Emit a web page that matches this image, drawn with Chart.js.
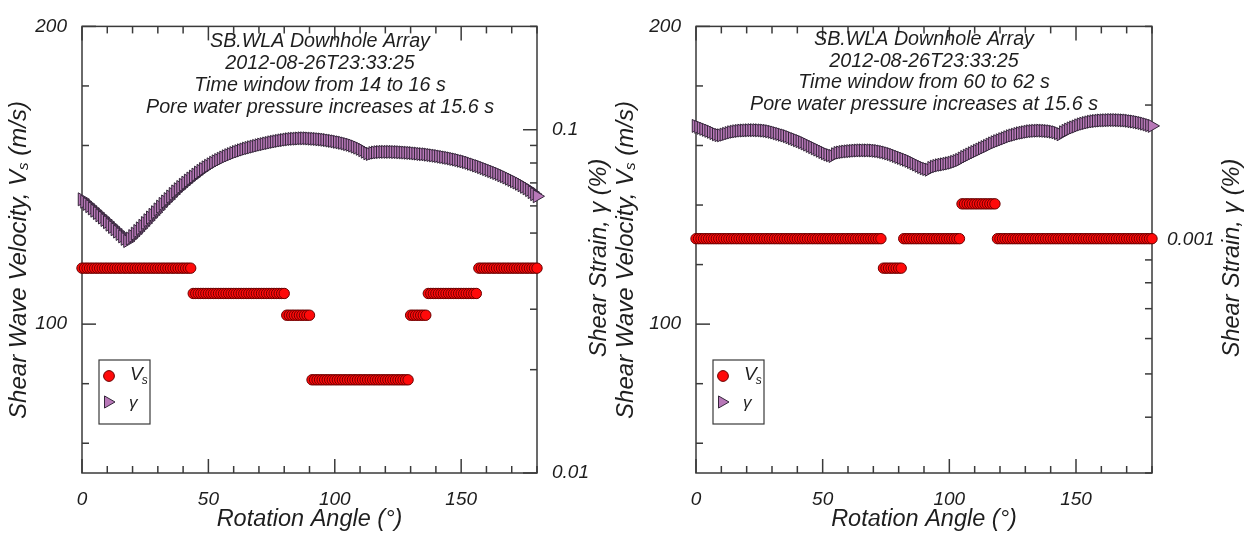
<!DOCTYPE html>
<html><head><meta charset="utf-8">
<script src="https://cdn.jsdelivr.net/npm/chart.js@4.4.1/dist/chart.umd.min.js"></script>
<style>
html,body{margin:0;padding:0;background:#fff;}
#wrap{position:relative;width:1245px;height:540px;overflow:hidden;}
canvas{position:absolute;left:0;top:0;}
</style></head><body>
<div id="wrap">
<canvas id="c1" width="1245" height="540"></canvas>
<canvas id="c2" width="1245" height="540"></canvas>
</div>
<script>
// ---------- DATA ----------
const angles = [
  0,1,2,3,4,5,6,7,8,9,10,11,12,13,14,15,16,17,18,19,20,21,22,23,24,25,26,27,28,29,
  30,31,32,33,34,35,36,37,38,39,40,41,42,43,44,45,46,47,48,49,50,51,52,53,54,55,56,57,58,59,
  60,61,62,63,64,65,66,67,68,69,70,71,72,73,74,75,76,77,78,79,80,81,82,83,84,85,86,87,88,89,
  90,91,92,93,94,95,96,97,98,99,100,101,102,103,104,105,106,107,108,109,110,111,112,113,114,115,116,117,118,119,
  120,121,122,123,124,125,126,127,128,129,130,131,132,133,134,135,136,137,138,139,140,141,142,143,144,145,146,147,148,149,
  150,151,152,153,154,155,156,157,158,159,160,161,162,163,164,165,166,167,168,169,170,171,172,173,174,175,176,177,178,179,180];

// Left panel (time window 14-16 s)
const vsLeft = [
  // 0-43
  118.8,118.8,118.8,118.8,118.8,118.8,118.8,118.8,118.8,118.8,
  118.8,118.8,118.8,118.8,118.8,118.8,118.8,118.8,118.8,118.8,
  118.8,118.8,118.8,118.8,118.8,118.8,118.8,118.8,118.8,118.8,
  118.8,118.8,118.8,118.8,118.8,118.8,118.8,118.8,118.8,118.8,
  118.8,118.8,118.8,118.8,
  // 44-80
  110.3,110.3,110.3,110.3,110.3,110.3,110.3,110.3,110.3,110.3,
  110.3,110.3,110.3,110.3,110.3,110.3,110.3,110.3,110.3,110.3,
  110.3,110.3,110.3,110.3,110.3,110.3,110.3,110.3,110.3,110.3,
  110.3,110.3,110.3,110.3,110.3,110.3,110.3,
  // 81-90
  103.0,103.0,103.0,103.0,103.0,103.0,103.0,103.0,103.0,103.0,
  // 91-129
  81.3,81.3,81.3,81.3,81.3,81.3,81.3,81.3,81.3,81.3,
  81.3,81.3,81.3,81.3,81.3,81.3,81.3,81.3,81.3,81.3,
  81.3,81.3,81.3,81.3,81.3,81.3,81.3,81.3,81.3,81.3,
  81.3,81.3,81.3,81.3,81.3,81.3,81.3,81.3,81.3,
  // 130-136
  103.0,103.0,103.0,103.0,103.0,103.0,103.0,
  // 137-156
  110.3,110.3,110.3,110.3,110.3,110.3,110.3,110.3,110.3,110.3,
  110.3,110.3,110.3,110.3,110.3,110.3,110.3,110.3,110.3,110.3,
  // 157-180
  118.8,118.8,118.8,118.8,118.8,118.8,118.8,118.8,118.8,118.8,
  118.8,118.8,118.8,118.8,118.8,118.8,118.8,118.8,118.8,118.8,
  118.8,118.8,118.8,118.8];
const strainLeft = [
  0.0627,0.0617,0.0608,0.0599,0.0590,0.0581,0.0572,0.0563,0.0555,0.0546,
  0.0538,0.0529,0.0521,0.0513,0.0505,0.0497,0.0489,0.0481,0.0474,0.0482,
  0.0490,0.0498,0.0507,0.0516,0.0525,0.0535,0.0545,0.0555,0.0565,0.0575,
  0.0586,0.0597,0.0608,0.0618,0.0628,0.0639,0.0650,0.0661,0.0671,0.0681,
  0.0691,0.0701,0.0711,0.0721,0.0730,0.0740,0.0750,0.0759,0.0768,0.0777,
  0.0785,0.0793,0.0801,0.0809,0.0816,0.0823,0.0830,0.0837,0.0843,0.0849,
  0.0855,0.0861,0.0866,0.0871,0.0876,0.0881,0.0885,0.0889,0.0893,0.0897,
  0.0901,0.0905,0.0908,0.0912,0.0915,0.0919,0.0922,0.0925,0.0928,0.0931,
  0.0933,0.0936,0.0938,0.0940,0.0941,0.0942,0.0943,0.0944,0.0944,0.0944,
  0.0943,0.0942,0.0941,0.0940,0.0938,0.0937,0.0935,0.0933,0.0930,0.0928,
  0.0925,0.0922,0.0919,0.0916,0.0912,0.0908,0.0904,0.0899,0.0893,0.0887,
  0.0880,0.0872,0.0863,0.0854,0.0850,0.0855,0.0858,0.0860,0.0861,0.0862,
  0.0862,0.0862,0.0862,0.0862,0.0861,0.0861,0.0860,0.0859,0.0858,0.0857,
  0.0856,0.0855,0.0853,0.0852,0.0850,0.0849,0.0848,0.0846,0.0844,0.0842,
  0.0840,0.0838,0.0835,0.0833,0.0830,0.0828,0.0825,0.0822,0.0819,0.0816,
  0.0812,0.0809,0.0805,0.0801,0.0796,0.0792,0.0787,0.0783,0.0778,0.0773,
  0.0768,0.0763,0.0758,0.0753,0.0748,0.0743,0.0737,0.0732,0.0726,0.0720,
  0.0714,0.0708,0.0702,0.0696,0.0689,0.0682,0.0675,0.0667,0.0658,0.0649,
  0.0640];

// Right panel (time window 60-62 s)
const vsRight = [
  // 0-73
  128.7,128.7,128.7,128.7,128.7,128.7,128.7,128.7,128.7,128.7,
  128.7,128.7,128.7,128.7,128.7,128.7,128.7,128.7,128.7,128.7,
  128.7,128.7,128.7,128.7,128.7,128.7,128.7,128.7,128.7,128.7,
  128.7,128.7,128.7,128.7,128.7,128.7,128.7,128.7,128.7,128.7,
  128.7,128.7,128.7,128.7,128.7,128.7,128.7,128.7,128.7,128.7,
  128.7,128.7,128.7,128.7,128.7,128.7,128.7,128.7,128.7,128.7,
  128.7,128.7,128.7,128.7,128.7,128.7,128.7,128.7,128.7,128.7,
  128.7,128.7,128.7,128.7,
  // 74-81
  118.8,118.8,118.8,118.8,118.8,118.8,118.8,118.8,
  // 82-104
  128.7,128.7,128.7,128.7,128.7,128.7,128.7,128.7,128.7,128.7,
  128.7,128.7,128.7,128.7,128.7,128.7,128.7,128.7,128.7,128.7,
  128.7,128.7,128.7,
  // 105-118
  140.4,140.4,140.4,140.4,140.4,140.4,140.4,140.4,140.4,140.4,
  140.4,140.4,140.4,140.4,
  // 119-180
  128.7,128.7,128.7,128.7,128.7,128.7,128.7,128.7,128.7,128.7,
  128.7,128.7,128.7,128.7,128.7,128.7,128.7,128.7,128.7,128.7,
  128.7,128.7,128.7,128.7,128.7,128.7,128.7,128.7,128.7,128.7,
  128.7,128.7,128.7,128.7,128.7,128.7,128.7,128.7,128.7,128.7,
  128.7,128.7,128.7,128.7,128.7,128.7,128.7,128.7,128.7,128.7,
  128.7,128.7,128.7,128.7,128.7,128.7,128.7,128.7,128.7,128.7,
  128.7,128.7];
const strainRight = [
  0.001796,0.001787,0.001778,0.001769,0.001760,0.001751,0.001742,0.001731,0.001720,0.001713,
  0.001711,0.001717,0.001724,0.001731,0.001738,0.001743,0.001747,0.001750,0.001753,0.001754,
  0.001755,0.001756,0.001757,0.001757,0.001757,0.001756,0.001755,0.001753,0.001751,0.001747,
  0.001742,0.001736,0.001729,0.001723,0.001716,0.001710,0.001703,0.001694,0.001685,0.001677,
  0.001668,0.001660,0.001651,0.001641,0.001631,0.001620,0.001610,0.001600,0.001590,0.001580,
  0.001570,0.001560,0.001550,0.001544,0.001538,0.001552,0.001562,0.001566,0.001570,0.001573,
  0.001575,0.001577,0.001579,0.001581,0.001582,0.001583,0.001583,0.001583,0.001583,0.001583,
  0.001582,0.001580,0.001578,0.001574,0.001570,0.001565,0.001559,0.001553,0.001546,0.001538,
  0.001530,0.001523,0.001515,0.001508,0.001500,0.001491,0.001481,0.001472,0.001462,0.001453,
  0.001444,0.001438,0.001433,0.001446,0.001455,0.001461,0.001466,0.001470,0.001473,0.001477,
  0.001481,0.001486,0.001492,0.001499,0.001507,0.001518,0.001530,0.001540,0.001550,0.001560,
  0.001570,0.001580,0.001590,0.001600,0.001610,0.001620,0.001631,0.001641,0.001651,0.001660,
  0.001668,0.001677,0.001685,0.001694,0.001703,0.001710,0.001716,0.001723,0.001729,0.001734,
  0.001738,0.001743,0.001747,0.001749,0.001751,0.001752,0.001753,0.001752,0.001751,0.001749,
  0.001747,0.001743,0.001738,0.001730,0.001720,0.001738,0.001751,0.001762,0.001773,0.001782,
  0.001791,0.001801,0.001810,0.001817,0.001823,0.001829,0.001835,0.001839,0.001842,0.001845,
  0.001847,0.001848,0.001849,0.001850,0.001851,0.001851,0.001851,0.001850,0.001849,0.001848,
  0.001847,0.001844,0.001840,0.001837,0.001833,0.001828,0.001823,0.001817,0.001810,0.001803,
  0.001796];

// Tick values / labels
const xTickValues = [0,10,20,30,40,50,60,70,80,90,100,110,120,130,140,150,160,170,180];
const xTickLabels = [0,50,100,150];
const vsTickValues = [60,80,100,120,140,160,180,200];
const vsTickLabels = [100,200];
const strainTicksLeft = [0.01,0.02,0.03,0.04,0.05,0.06,0.07,0.08,0.09,0.1,0.2];
const strainLabelsLeft = [0.01,0.1];
const strainTicksRight = [0.0003,0.0004,0.0005,0.0006,0.0007,0.0008,0.0009,0.001,0.002,0.003];
const strainLabelsRight = [0.001];

const notesLeft = ['SB.WLA Downhole Array','2012-08-26T23:33:25','Time window from 14 to 16 s','Pore water pressure increases at 15.6 s'];
const notesRight = ['SB.WLA Downhole Array','2012-08-26T23:33:25','Time window from 60 to 62 s','Pore water pressure increases at 15.6 s'];

// ---------- STYLE ----------
const FONT = "'Liberation Sans', Arial, sans-serif";
const INK = '#1e1e1e';
const AXIS = '#3a3a3a';

function near(list, v){ return list.some(t => Math.abs(t - v) <= Math.abs(t) * 1e-6); }
function fmt(v){ return String(parseFloat(v.toPrecision(6))); }

function drawRotated(ctx, x, y, parts) {
  ctx.save();
  ctx.translate(x, y);
  ctx.rotate(-Math.PI / 2);
  ctx.textAlign = 'left'; ctx.textBaseline = 'middle';
  let w = 0;
  parts.forEach(([s, sz]) => { ctx.font = 'italic ' + sz + 'px ' + FONT; w += ctx.measureText(s).width; });
  let px = -w / 2;
  parts.forEach(([s, sz, dy]) => { ctx.font = 'italic ' + sz + 'px ' + FONT; ctx.fillText(s, px, dy); px += ctx.measureText(s).width; });
  ctx.restore();
}

const framePlugin = {
  id: 'frame',
  beforeDatasetsDraw(chart) {
    const {ctx, chartArea: a, scales} = chart;
    ctx.save();
    ctx.strokeStyle = AXIS; ctx.lineWidth = 1.5;
    ctx.strokeRect(a.left, a.top, a.right - a.left, a.bottom - a.top);
    const seg = (x1,y1,x2,y2) => { ctx.beginPath(); ctx.moveTo(x1,y1); ctx.lineTo(x2,y2); ctx.stroke(); };
    scales.x.ticks.forEach(t => {
      const p = scales.x.getPixelForValue(t.value);
      const L = t.label ? 14 : 7;
      seg(p, a.bottom, p, a.bottom - L);
      seg(p, a.top, p, a.top + L);
    });
    scales.y.ticks.forEach(t => {
      const p = scales.y.getPixelForValue(t.value);
      seg(a.left, p, a.left + (t.label ? 14 : 7), p);
    });
    scales.y1.ticks.forEach(t => {
      const p = scales.y1.getPixelForValue(t.value);
      seg(a.right, p, a.right - (t.label ? 14 : 7), p);
    });
    ctx.restore();
  },
  afterDatasetsDraw(chart, args, o) {
    const {ctx, chartArea: a} = chart;
    const ds = chart.data.datasets;
    ctx.save();
    // annotation lines
    ctx.fillStyle = INK;
    ctx.font = 'italic 19.7px ' + FONT;
    ctx.textAlign = 'center'; ctx.textBaseline = 'middle';
    o.notes.forEach((s, i) => ctx.fillText(s, o.noteX, o.noteY[i]));
    // legend box
    const lx = o.legendX, ly = 360;
    ctx.fillStyle = '#fff';
    ctx.fillRect(lx, ly, 51, 64);
    ctx.strokeStyle = AXIS; ctx.lineWidth = 1.2;
    ctx.strokeRect(lx, ly, 51, 64);
    ctx.lineWidth = 1;
    ctx.fillStyle = ds[0].backgroundColor; ctx.strokeStyle = ds[0].borderColor;
    Chart.helpers.drawPoint(ctx, {pointStyle: 'circle', radius: 5.4, rotation: 0, borderWidth: 1}, lx + 10, ly + 16);
    ctx.fillStyle = ds[1].backgroundColor; ctx.strokeStyle = ds[1].borderColor;
    Chart.helpers.drawPoint(ctx, {pointStyle: 'triangle', radius: 7, rotation: 90, borderWidth: 1}, lx + 9, ly + 42);
    ctx.fillStyle = INK;
    ctx.textAlign = 'left'; ctx.textBaseline = 'middle';
    ctx.font = 'italic 19px ' + FONT;
    ctx.fillText('V', lx + 31, ly + 15);
    const vw = ctx.measureText('V').width;
    ctx.font = 'italic 12px ' + FONT;
    ctx.fillText('s', lx + 31 + vw - 1, ly + 21);
    ctx.font = 'italic 17px ' + FONT;
    ctx.fillText('γ', lx + 30, ly + 43);
    // axis titles
    ctx.font = 'italic 23.5px ' + FONT;
    ctx.textAlign = 'center'; ctx.textBaseline = 'middle';
    ctx.fillText('Rotation Angle (°)', (a.left + a.right) / 2, 519);
    drawRotated(ctx, o.leftTitleX, 260, [['Shear Wave Velocity, V', 24, 0], ['s', 15, 5], [' (m/s)', 24, 0]]);
    drawRotated(ctx, o.rightTitleX, 258, [['Shear Strain, γ (%)', 23.5, 0]]);
    ctx.restore();
  }
};

function makeChart(id, cfg) {
  const tickFont = {family: FONT, size: 19, style: 'italic'};
  return new Chart(document.getElementById(id), {
    type: 'scatter',
    data: {
      datasets: [
        { label: 'Vs', yAxisID: 'y', data: angles.map((a, i) => ({x: a, y: cfg.vs[i]})),
          pointStyle: 'circle', pointRadius: 5.2, backgroundColor: '#ff0a0a', borderColor: '#6a0000', borderWidth: 1, clip: false },
        { label: 'γ', yAxisID: 'y1', data: angles.map((a, i) => ({x: a, y: cfg.strain[i]})),
          pointStyle: 'triangle', rotation: 90, pointRadius: 7.5, backgroundColor: '#b878b8', borderColor: '#34263a', borderWidth: 1, clip: false }
      ]
    },
    options: {
      responsive: false, animation: false, events: [],
      layout: {padding: {left: 0, top: 19, right: cfg.padRight, bottom: 27}},
      plugins: {legend: {display: false}, tooltip: {enabled: false}, frame: cfg.frame},
      scales: {
        x: { type: 'linear', position: 'bottom', min: 0, max: 180,
             grid: {display: false, drawTicks: false}, border: {display: false},
             afterBuildTicks: s => { s.ticks = xTickValues.map(v => ({value: v})); },
             afterFit: s => { s.height = 40; },
             ticks: {autoSkip: false, maxRotation: 0, padding: 15, color: INK, font: tickFont,
                     callback: v => near(xTickLabels, v) ? fmt(v) : ''} },
        y: { type: 'linear', position: 'left', min: 50, max: 200,
             grid: {display: false, drawTicks: false}, border: {display: false},
             afterBuildTicks: s => { s.ticks = vsTickValues.map(v => ({value: v})); },
             afterFit: s => { s.width = cfg.leftWidth; },
             ticks: {autoSkip: false, padding: 15, color: INK, font: tickFont,
                     callback: v => near(vsTickLabels, v) ? fmt(v) : ''} },
        y1: { type: 'logarithmic', position: 'right', min: cfg.smin, max: cfg.smax,
             grid: {display: false, drawTicks: false}, border: {display: false},
             afterBuildTicks: s => { s.ticks = cfg.sTicks.map(v => ({value: v})); },
             afterFit: s => { s.width = 80; },
             ticks: {autoSkip: false, padding: 15, color: INK, font: tickFont,
                     callback: v => near(cfg.sLabels, v) ? fmt(v) : ''} }
      }
    },
    plugins: [framePlugin]
  });
}

makeChart('c1', {
  vs: vsLeft, strain: strainLeft, smin: 0.01, smax: 0.2,
  sTicks: strainTicksLeft, sLabels: strainLabelsLeft,
  leftWidth: 82, padRight: 1245 - 537 - 80,
  frame: {notes: notesLeft, noteX: 320, noteY: [42, 64, 86, 108], legendX: 99, leftTitleX: 19, rightTitleX: 599}
});
makeChart('c2', {
  vs: vsRight, strain: strainRight, smin: 0.0003, smax: 0.003,
  sTicks: strainTicksRight, sLabels: strainLabelsRight,
  leftWidth: 696, padRight: 1245 - 1152 - 80,
  frame: {notes: notesRight, noteX: 924, noteY: [40, 62, 83, 105], legendX: 713, leftTitleX: 626, rightTitleX: 1232}
});
</script>
</body></html>
